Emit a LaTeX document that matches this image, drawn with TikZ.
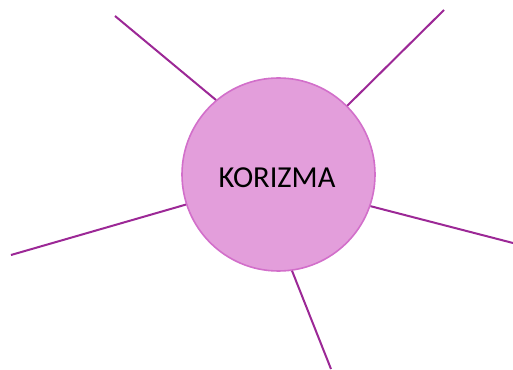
\documentclass[tikz,border=0pt]{standalone}
\usepackage{fontspec}
\setmainfont{Carlito}
\definecolor{bubblefill}{HTML}{E39EDB}
\definecolor{bubbledraw}{HTML}{D26FCA}
\definecolor{spoke}{HTML}{9C2896}
\begin{document}
\begin{tikzpicture}[
    x=1pt, y=1pt,
    hub/.style={circle, draw=bubbledraw, fill=bubblefill, line width=1.6pt,
                minimum size=193pt, inner sep=0pt, font=\fontsize{30.5}{33}\selectfont},
    branch/.style={draw=spoke, line width=2pt}
]
\useasboundingbox (0,0) rectangle (513,369);

% Central node
\node[hub] (korizma) at (278.5,194.5) {};
\node[font=\fontsize{30.5}{33}\selectfont] (title) at (277,191) {KORIZMA};

% Free ends of the branches
\coordinate (e1) at (115,353);
\coordinate (e2) at (444,359);
\coordinate (e3) at (11,114);
\coordinate (e4) at (513,126);
\coordinate (e5) at (331,0);

% Branches
\draw[branch] (korizma.130) -- (e1);
\draw[branch] (korizma.45)  -- (e2);
\draw[branch] (korizma.198) -- (e3);
\draw[branch] (korizma.341) -- (e4);
\draw[branch] (korizma.278) -- (e5);

\end{tikzpicture}
\end{document}
